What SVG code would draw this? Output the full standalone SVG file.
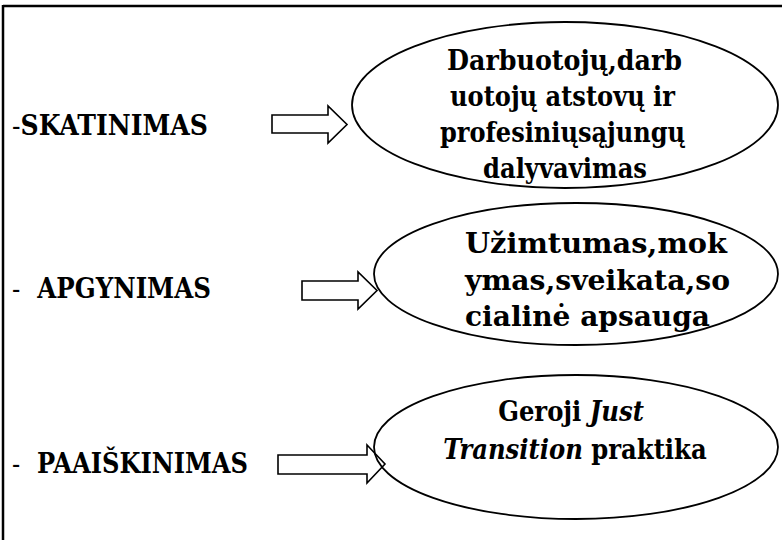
<svg xmlns="http://www.w3.org/2000/svg" width="782" height="540" viewBox="0 0 782 540">
<style>
.frame{stroke:#000;stroke-width:2.5;fill:none}
.ell{fill:#fff;stroke:#000;stroke-width:1.8}
.arr{fill:none;stroke:#000;stroke-width:1.6;stroke-linejoin:miter}
text{font-family:"DejaVu Serif Condensed","DejaVu Serif",serif;fill:#000}
.lbl{font-weight:bold;font-size:27px}
.dash{font-weight:normal}
.t{font-weight:bold;font-size:27px;text-anchor:middle}
.it{font-style:italic}
</style>
<rect width="782" height="540" fill="#fff"/>
<g id="frame">
<line class="frame" x1="3" y1="6" x2="782" y2="6"/>
<line class="frame" x1="3" y1="5" x2="3" y2="540"/>
</g>
<g id="node-skatinimas"><text class="lbl" x="12" y="135" textLength="196" lengthAdjust="spacingAndGlyphs"><tspan class="dash">-</tspan>SKATINIMAS</text></g>
<g id="node-apgynimas"><text class="lbl" x="12" y="298" xml:space="preserve" textLength="199" lengthAdjust="spacingAndGlyphs"><tspan class="dash">-</tspan>  APGYNIMAS</text></g>
<g id="node-paaiskinimas"><text class="lbl" x="12" y="473" xml:space="preserve" textLength="236" lengthAdjust="spacingAndGlyphs"><tspan class="dash">-</tspan>  PAAIŠKINIMAS</text></g>
<g id="node-dalyvavimas">
<ellipse class="ell" cx="565" cy="105" rx="213" ry="83"/>
<text class="t" x="564.5" y="70" textLength="235" lengthAdjust="spacingAndGlyphs">Darbuotojų,darb</text>
<text class="t" x="562.5" y="106" textLength="225" lengthAdjust="spacingAndGlyphs">uotojų atstovų ir</text>
<text class="t" x="562.5" y="142" textLength="245" lengthAdjust="spacingAndGlyphs">profesiniųsąjungų</text>
<text class="t" x="565" y="178" textLength="164" lengthAdjust="spacingAndGlyphs">dalyvavimas</text>
</g>
<g id="node-uzimtumas">
<ellipse class="ell" cx="576" cy="274" rx="202" ry="71"/>
<text class="t" x="596" y="253" textLength="262" lengthAdjust="spacingAndGlyphs">Užimtumas,mok</text>
<text class="t" x="597.5" y="290" textLength="265" lengthAdjust="spacingAndGlyphs">ymas,sveikata,so</text>
<text class="t" x="587.5" y="326" textLength="245" lengthAdjust="spacingAndGlyphs">cialinė apsauga</text>
</g>
<g id="node-praktika">
<ellipse class="ell" cx="576" cy="447" rx="202" ry="72"/>
<text class="t" x="571" y="421" font-size="26">Geroji <tspan class="it">Just</tspan></text>
<text class="t" x="575" y="459" font-size="26"><tspan class="it">Transition</tspan> praktika</text>
</g>
<g id="connectors">
<path class="arr" d="M272,115 H328 V106 L347,124.5 L328,143 V133 H272 Z"/>
<path class="arr" d="M302,281 H358 V272 L377,290.5 L358,309 V300 H302 Z"/>
<path class="arr" d="M278,455 H367 V445 L385,464 L367,483 V474 H278 Z"/>
</g>
</svg>
